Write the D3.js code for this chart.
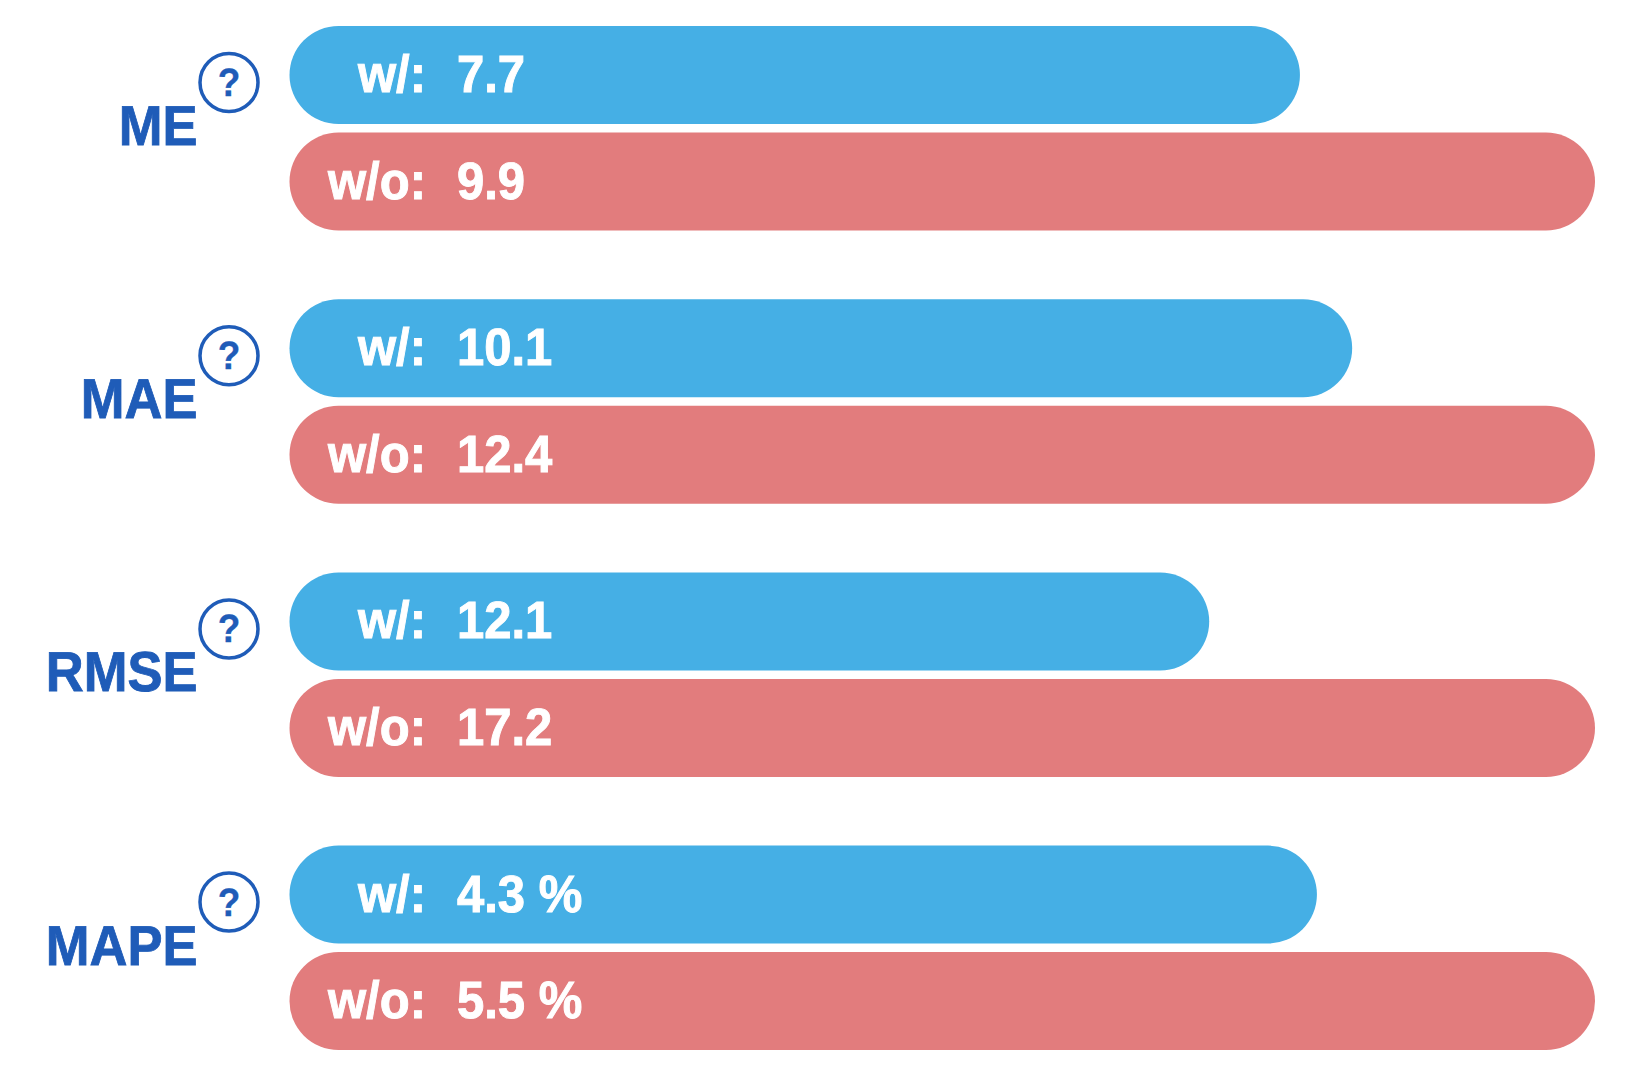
<!DOCTYPE html>
<html><head><meta charset="utf-8"><script src="https://cdn.jsdelivr.net/npm/d3@7"></script>
<style>html,body{margin:0;padding:0;background:#fff}svg{display:block}text{text-rendering:geometricPrecision}</style></head><body><script>
const metrics=["ME","MAE","RMSE","MAPE"];
const withValues=[7.7,10.1,12.1,4.3];
const withoutValues=[9.9,12.4,17.2,5.5];
// Drawn bar lengths, as a share of the longest bar
const withLengths=[0.774,0.814,0.7045,0.787];
const withoutLengths=[1,1,1,1];
const suffixes=["","",""," %"];
const W=1632,H=1080;
const svg=d3.select("body").append("svg").attr("width",W).attr("height",H);
const font="'Liberation Sans',Arial,sans-serif";
const step=273.2, firstTop=26;
const y=d3.scaleBand().domain(metrics).range([firstTop,firstTop+step*metrics.length]);
const x=d3.scaleLinear().domain([0,1]).range([289.5,1595]);
const blue="#45afe5",red="#e27c7d",navy="#1f5cb8";
const barH=98, stretch=1.07;
function label(g,tx,ty,str,size,fill,anchor,sw){
  g.append("text").attr("transform",`translate(${tx},${ty}) scale(1,${stretch})`)
   .attr("text-anchor",anchor).attr("fill",fill).attr("stroke",fill).attr("stroke-width",sw)
   .attr("font-family",font).attr("font-weight",700).attr("font-size",size).text(str);
}
metrics.forEach((m,i)=>{
  const top=y(m);
  const g=svg.append("g");
  const rows=[
    {k:"w/:",v:withValues[i],len:withLengths[i],c:blue,dy:0,lx:358},
    {k:"w/o:",v:withoutValues[i],len:withoutLengths[i],c:red,dy:106.5,lx:328}];
  rows.forEach(r=>{
    g.append("rect").attr("x",x(0)).attr("y",top+r.dy).attr("width",x(r.len)-x(0)).attr("height",barH).attr("rx",barH/2).attr("ry",barH/2).attr("fill",r.c);
    label(g,r.lx,top+r.dy+66,r.k,49,"#fff","start",0.9);
    label(g,457,top+r.dy+66,r.v.toFixed(1)+suffixes[i],49,"#fff","start",0.9);
  });
  label(g,197.5,top+119,m,52.5,navy,"end",0.8);
  g.append("circle").attr("cx",229).attr("cy",top+56.5).attr("r",29).attr("fill","none").attr("stroke",navy).attr("stroke-width",3.5);
  label(g,229,top+70,"?",37,navy,"middle",0.3);
});
</script></body></html>
